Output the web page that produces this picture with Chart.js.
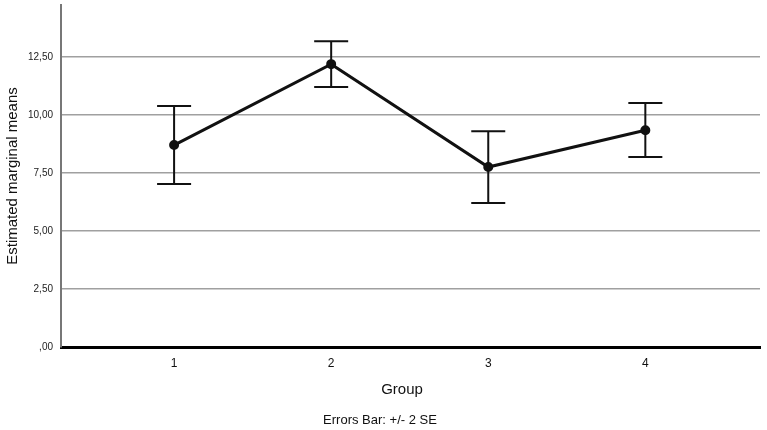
<!DOCTYPE html>
<html lang="en">
<head>
  <meta charset="UTF-8" />
  <title>Estimated marginal means by group</title>
  <script src="https://cdn.jsdelivr.net/npm/chart.js@4"></script>
  <style>
    body { margin: 0; background: #fff; }
    #wrap { width: 767px; height: 430px; }
  </style>
</head>
<body>
  <div id="wrap"><canvas id="emmChart"></canvas></div>

  <script>
    // values
    const groups = [1, 2, 3, 4];
    const means = [8.71, 12.2, 7.76, 9.35];
    const upper = [10.39, 13.19, 9.31, 10.52]; // mean + 2 SE
    const lower = [7.03, 11.21, 6.21, 8.19];   // mean - 2 SE
    const yTicks = [0, 2.5, 5, 7.5, 10, 12.5];

    // draws the error bars (I-beams) through the scales
    const errorBars = {
      id: 'errorBars',
      afterDatasetsDraw(chart) {
        const { ctx, scales: { x, y } } = chart;
        ctx.save();
        ctx.strokeStyle = '#111';
        ctx.lineWidth = 2;
        groups.forEach((g, i) => {
          const px = x.getPixelForValue(g);
          const top = y.getPixelForValue(upper[i]);
          const bot = y.getPixelForValue(lower[i]);
          ctx.beginPath();
          ctx.moveTo(px, top); ctx.lineTo(px, bot);
          ctx.moveTo(px - 17, top); ctx.lineTo(px + 17, top);
          ctx.moveTo(px - 17, bot); ctx.lineTo(px + 17, bot);
          ctx.stroke();
        });
        ctx.restore();
      }
    };

    // x title and footnote, placed like in the original export
    const captions = {
      id: 'captions',
      afterDraw(chart) {
        const ctx = chart.ctx;
        ctx.save();
        ctx.fillStyle = '#111';
        ctx.textAlign = 'center';
        ctx.textBaseline = 'middle';
        ctx.font = '15px "Liberation Sans Narrow", "Arial Narrow", Arial, sans-serif';
        ctx.fillText('Group', 402, 390);
        ctx.font = '13px Arial, "Liberation Sans", sans-serif';
        ctx.fillText('Errors Bar: +/- 2 SE', 380, 420);
        ctx.restore();
      }
    };

    const ctx = document.getElementById('emmChart').getContext('2d');
    new Chart(ctx, {
      type: 'line',
      data: {
        datasets: [{
          data: groups.map((g, i) => ({ x: g, y: means[i] })),
          borderColor: '#111',
          backgroundColor: '#111',
          borderWidth: 3,
          pointRadius: 3.5,
          pointHoverRadius: 3.5,
          tension: 0
        }]
      },
      options: {
        responsive: true,
        maintainAspectRatio: false,
        animation: false,
        layout: { autoPadding: false, padding: { top: 5, right: 7, left: 0, bottom: 0 } },
        plugins: {
          legend: { display: false },
          tooltip: { enabled: false }
        },
        scales: {
          x: {
            type: 'linear',
            min: 0.28,
            max: 4.73,
            afterBuildTicks: s => { s.ticks = groups.map(v => ({ value: v })); },
            afterFit: s => { s.height = 83; s.paddingLeft = 0; s.paddingRight = 0; },
            grid: { display: false, drawTicks: false },
            border: { color: '#000', width: 3 },
            ticks: {
              padding: 9,
              color: '#111',
              font: { family: 'Arial, "Liberation Sans", sans-serif', size: 12 }
            }
          },
          y: {
            min: 0,
            max: 14.75,
            afterBuildTicks: s => { s.ticks = yTicks.map(v => ({ value: v })); },
            // no extra room for the end labels, the plot starts right at the top
            afterFit: s => { s.width = 61; s.paddingTop = 0; s.paddingBottom = 0; },
            grid: {
              color: ctx => ctx.tick && ctx.tick.value === 0 ? 'rgba(0,0,0,0)' : '#a0a0a0',
              lineWidth: 1.5,
              drawTicks: false
            },
            border: { color: '#777', width: 2 },
            ticks: {
              padding: 8,
              color: '#222',
              font: { family: 'Arial, "Liberation Sans", sans-serif', size: 10 },
              callback: v => v === 0 ? ',00' : v.toFixed(2).replace('.', ',')
            },
            title: {
              display: true,
              text: 'Estimated marginal means',
              color: '#111',
              font: { family: 'Arial, "Liberation Sans", sans-serif', size: 15 }
            }
          }
        }
      },
      plugins: [errorBars, captions]
    });
  </script>
</body>
</html>
